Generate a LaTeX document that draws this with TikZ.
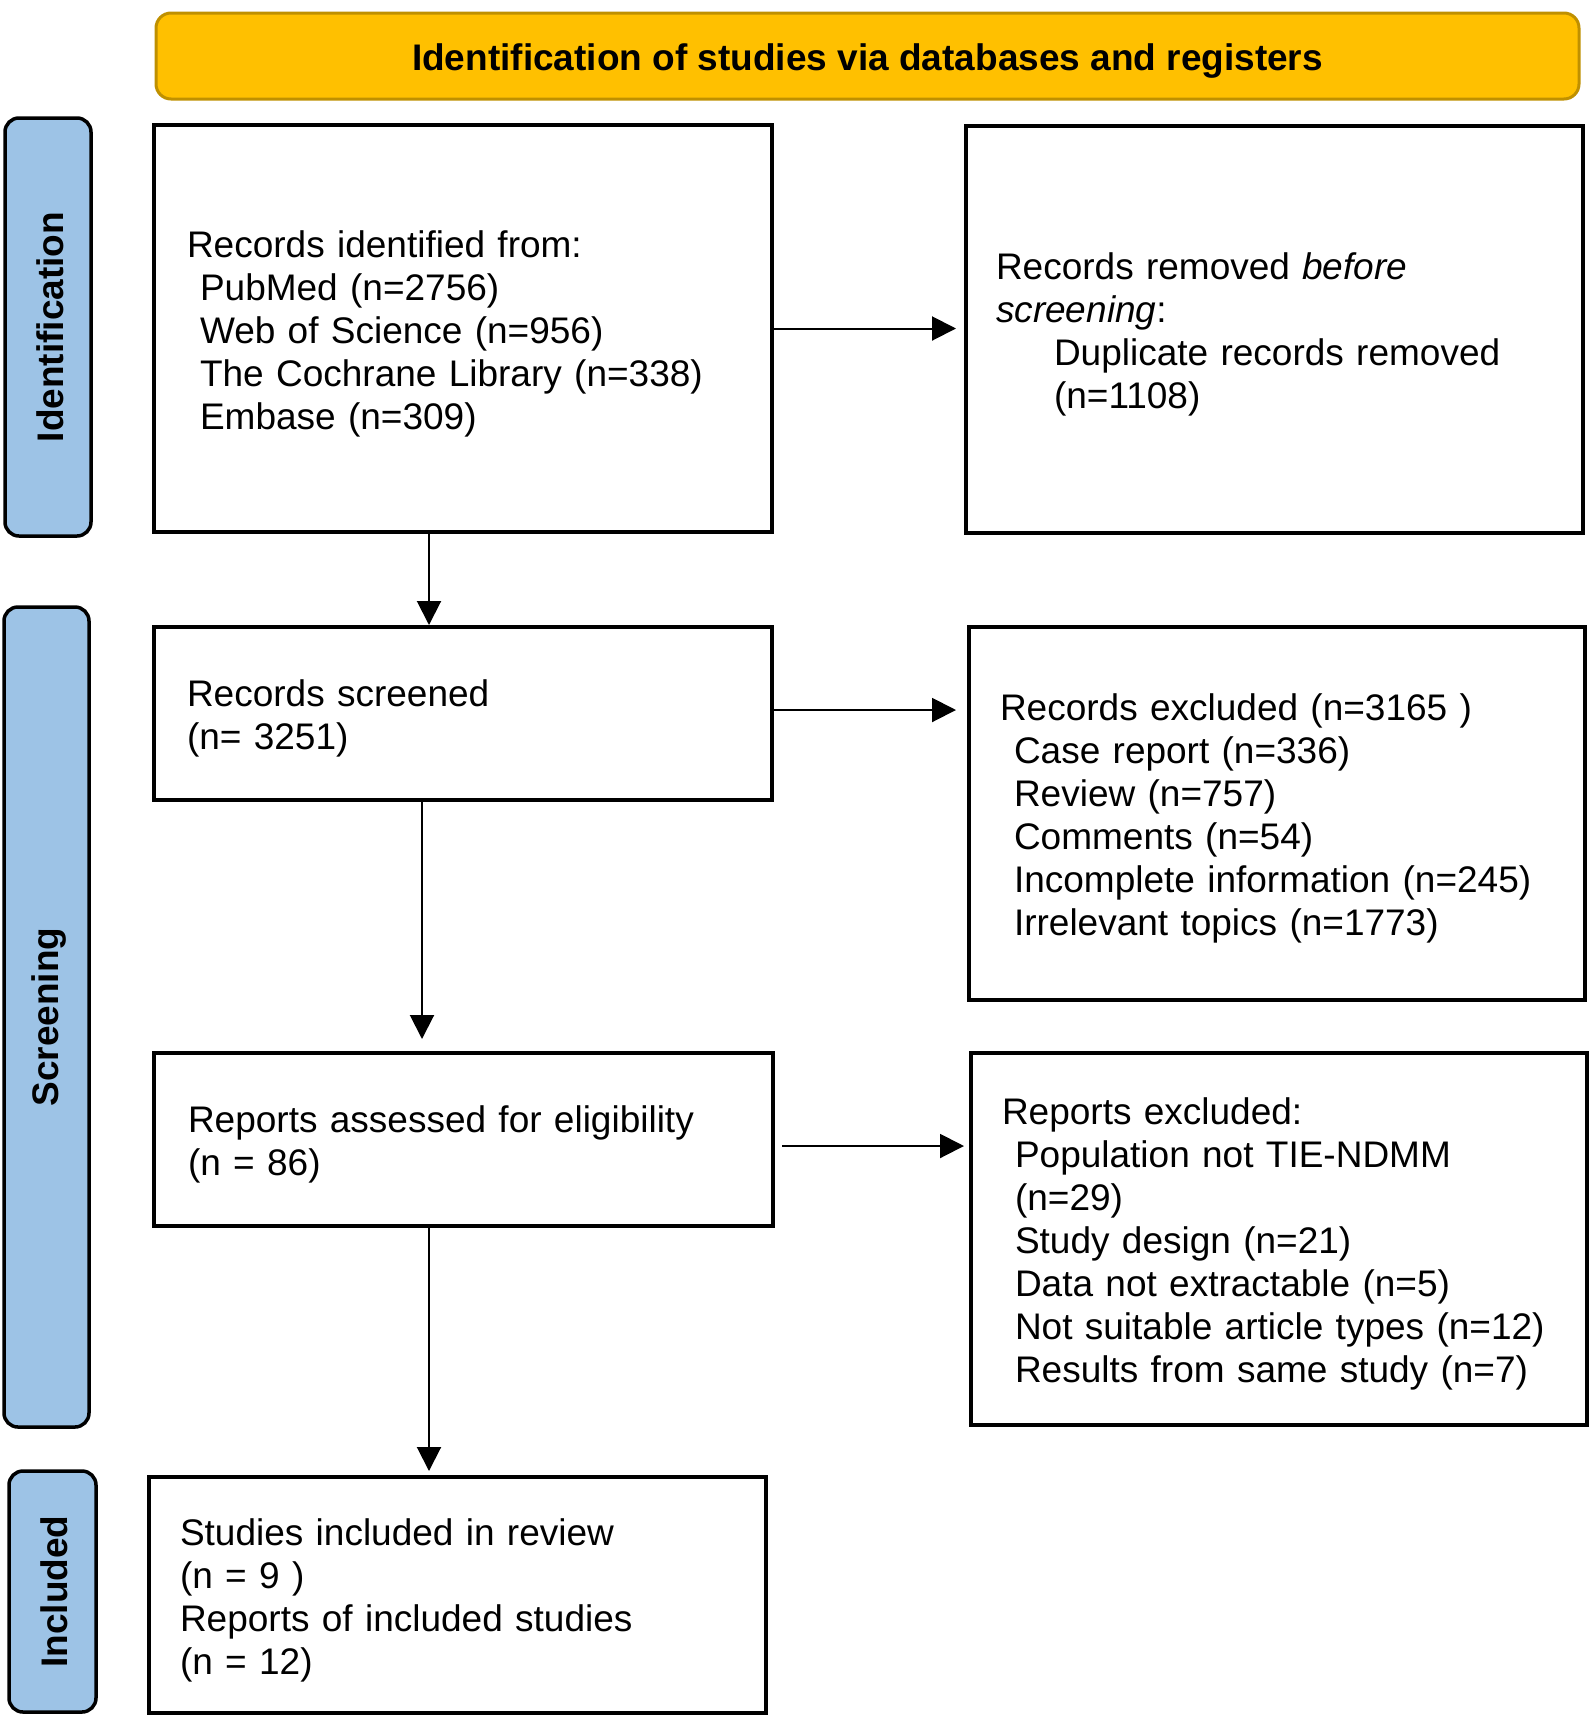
\documentclass[tikz,border=0pt]{standalone}
\usepackage{fontspec}
\setmainfont{Liberation Sans}
\usetikzlibrary{arrows.meta}
\definecolor{gold}{HTML}{FFC000}
\definecolor{goldline}{HTML}{BF9000}
\definecolor{sideblue}{HTML}{9DC3E6}
\newcommand{\topfix}{\rule{0pt}{37pt}}
\begin{document}
\begin{tikzpicture}[x=1pt,y=-1pt,
  box/.style={draw=black, line width=4pt, rectangle, align=left, inner ysep=0pt, font=\fontsize{37}{43}\selectfont},
  side/.style={draw=black, line width=3.5pt, fill=sideblue, rounded corners=14pt, rotate=90, inner sep=0pt, text height=31pt, font=\fontsize{37}{43}\selectfont\bfseries},
  title/.style={draw=goldline, fill=gold, line width=3pt, rounded corners=15pt, inner sep=0pt, text height=36pt, font=\fontsize{37}{43}\selectfont\bfseries},
  arr/.style={-{Triangle[length=24pt,width=24pt]}, line width=2pt}]
\useasboundingbox (0,0) rectangle (1594,1730);

\node[title, minimum width=1423pt, minimum height=86pt] (T) at (867.5,56) {Identification of studies via databases and registers};

\node[side, minimum width=418pt, minimum height=86pt] (s1) at (48,327) {Identification};
\node[side, minimum width=820pt, minimum height=85pt] (s2) at (46.5,1017) {Screening};
\node[side, minimum width=241pt, minimum height=87pt] (s3) at (52.5,1591.5) {Included};

\node[box, minimum width=618pt, minimum height=407pt, text width=552pt, inner xsep=33pt] (A) at (463,328.5)
  {\topfix Records identified from:\\
   \hspace*{13pt}PubMed (n=2756)\\
   \hspace*{13pt}Web of Science (n=956)\\
   \hspace*{13pt}The Cochrane Library (n=338)\\
   \hspace*{13pt}Embase (n=309)};

\node[box, minimum width=617pt, minimum height=407pt, text width=557pt, inner xsep=30pt] (B) at (1274.5,329.5)
  {\topfix Records removed \textit{before}\\
   \textit{screening}:\\
   \hspace*{58pt}Duplicate records removed\\
   \hspace*{58pt}(n=1108)};

\node[box, minimum width=618pt, minimum height=173pt, text width=552pt, inner xsep=33pt] (C) at (463,713.5)
  {\topfix Records screened\\
   (n= 3251)};

\node[box, minimum width=616pt, minimum height=373pt, text width=554pt, inner xsep=31pt] (D) at (1277,813.5)
  {\topfix Records excluded (n=3165 )\\
   \hspace*{14pt}Case report (n=336)\\
   \hspace*{14pt}Review (n=757)\\
   \hspace*{14pt}Comments (n=54)\\
   \hspace*{14pt}Incomplete information (n=245)\\
   \hspace*{14pt}Irrelevant topics (n=1773)};

\node[box, minimum width=619pt, minimum height=173pt, text width=551pt, inner xsep=34pt] (E) at (463.5,1139.5)
  {\topfix Reports assessed for eligibility\\
   (n = 86)};

\node[box, minimum width=616pt, minimum height=372pt, text width=554pt, inner xsep=31pt] (F) at (1279,1239)
  {\topfix Reports excluded:\\
   \hspace*{13pt}Population not TIE-NDMM\\
   \hspace*{13pt}(n=29)\\
   \hspace*{13pt}Study design (n=21)\\
   \hspace*{13pt}Data not extractable (n=5)\\
   \hspace*{13pt}Not suitable article types (n=12)\\
   \hspace*{13pt}Results from same study (n=7)};

\node[box, minimum width=617pt, minimum height=236pt, text width=555pt, inner xsep=31pt] (G) at (457.5,1595)
  {\topfix Studies included in review\\
   (n = 9 )\\
   Reports of included studies\\
   (n = 12)};

\coordinate (xa) at (429,0);
\coordinate (xc) at (422,0);
\draw[arr, shorten >=8pt] (A.east) -- (A.east -| B.west);
\draw[arr] (A.south -| xa) -- (C.north -| xa);
\coordinate (c1) at ([yshift=3.5pt]C.east);
\draw[arr, shorten >=11pt] (c1) -- (c1 -| D.west);
\draw[arr, shorten >=12pt] (C.south -| xc) -- (E.north -| xc);
\coordinate (e1) at ([yshift=-6.5pt]E.east);
\draw[arr, shorten <=7pt, shorten >=5pt] (e1) -- (e1 -| F.west);
\draw[arr, shorten >=4pt] (E.south -| xa) -- (G.north -| xa);
\end{tikzpicture}
\end{document}
